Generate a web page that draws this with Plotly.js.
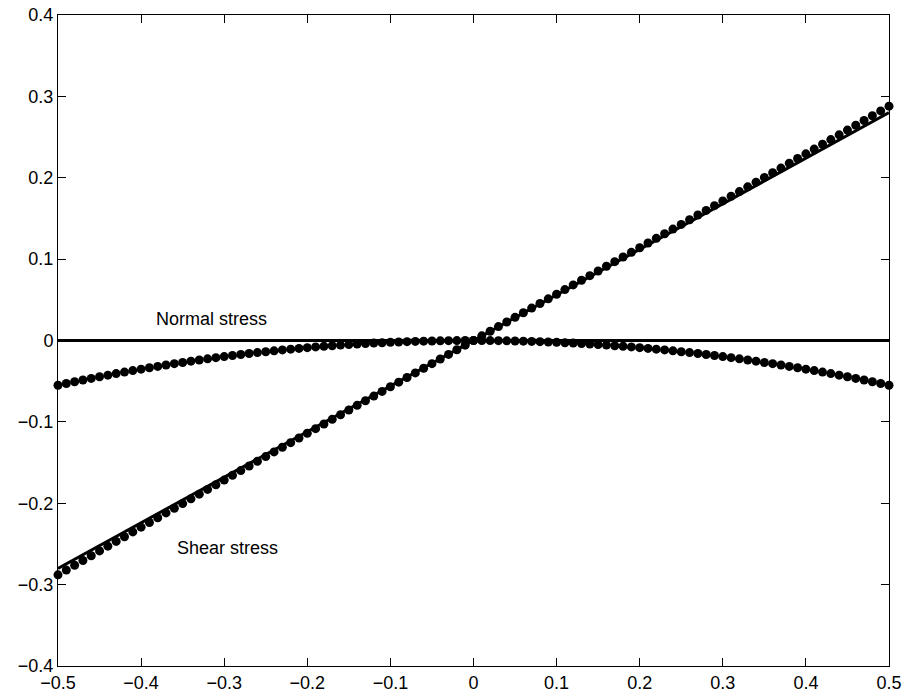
<!DOCTYPE html>
<html>
<head>
<meta charset="utf-8">
<script src="https://cdn.plot.ly/plotly-3.0.1.min.js"></script>
<style>html,body{margin:0;padding:0;background:#fff;}#chart{width:910px;height:697px;}</style>
</head>
<body>
<div id="chart"></div>
<script>
// Sample positions of the dotted (numerical) curves
const xPoints = [-0.50,-0.49,-0.48,-0.47,-0.46,-0.45,-0.44,-0.43,-0.42,-0.41,
  -0.40,-0.39,-0.38,-0.37,-0.36,-0.35,-0.34,-0.33,-0.32,-0.31,
  -0.30,-0.29,-0.28,-0.27,-0.26,-0.25,-0.24,-0.23,-0.22,-0.21,
  -0.20,-0.19,-0.18,-0.17,-0.16,-0.15,-0.14,-0.13,-0.12,-0.11,
  -0.10,-0.09,-0.08,-0.07,-0.06,-0.05,-0.04,-0.03,-0.02,-0.01,
  0.00,
  0.01,0.02,0.03,0.04,0.05,0.06,0.07,0.08,0.09,0.10,
  0.11,0.12,0.13,0.14,0.15,0.16,0.17,0.18,0.19,0.20,
  0.21,0.22,0.23,0.24,0.25,0.26,0.27,0.28,0.29,0.30,
  0.31,0.32,0.33,0.34,0.35,0.36,0.37,0.38,0.39,0.40,
  0.41,0.42,0.43,0.44,0.45,0.46,0.47,0.48,0.49,0.50];

// Shear stress, dotted curve
const shearDots = [-0.2880,-0.2821,-0.2762,-0.2703,-0.2645,-0.2586,-0.2527,-0.2469,-0.2411,-0.2352,
  -0.2294,-0.2236,-0.2178,-0.2119,-0.2061,-0.2004,-0.1946,-0.1888,-0.1830,-0.1772,
  -0.1715,-0.1657,-0.1599,-0.1542,-0.1484,-0.1427,-0.1369,-0.1312,-0.1255,-0.1198,
  -0.1140,-0.1083,-0.1026,-0.0969,-0.0912,-0.0854,-0.0797,-0.0740,-0.0683,-0.0626,
  -0.0569,-0.0512,-0.0455,-0.0398,-0.0341,-0.0285,-0.0228,-0.0171,-0.0114,-0.0057,
  0.0000,
  0.0057,0.0114,0.0171,0.0228,0.0285,0.0341,0.0398,0.0455,0.0512,0.0569,
  0.0626,0.0683,0.0740,0.0797,0.0854,0.0912,0.0969,0.1026,0.1083,0.1140,
  0.1198,0.1255,0.1312,0.1369,0.1427,0.1484,0.1542,0.1599,0.1657,0.1715,
  0.1772,0.1830,0.1888,0.1946,0.2004,0.2061,0.2119,0.2178,0.2236,0.2294,
  0.2352,0.2411,0.2469,0.2527,0.2586,0.2645,0.2703,0.2762,0.2821,0.2880];

// Normal stress, dotted curve
const normalDots = [-0.0550,-0.0528,-0.0507,-0.0486,-0.0466,-0.0446,-0.0426,-0.0407,-0.0388,-0.0370,
  -0.0352,-0.0335,-0.0318,-0.0301,-0.0285,-0.0270,-0.0254,-0.0240,-0.0225,-0.0211,
  -0.0198,-0.0185,-0.0172,-0.0160,-0.0149,-0.0138,-0.0127,-0.0116,-0.0106,-0.0097,
  -0.0088,-0.0079,-0.0071,-0.0064,-0.0056,-0.0050,-0.0043,-0.0037,-0.0032,-0.0027,
  -0.0022,-0.0018,-0.0014,-0.0011,-0.0008,-0.0006,-0.0004,-0.0002,-0.0001,0.0000,
  0.0000,
  0.0000,-0.0001,-0.0002,-0.0004,-0.0006,-0.0008,-0.0011,-0.0014,-0.0018,-0.0022,
  -0.0027,-0.0032,-0.0037,-0.0043,-0.0050,-0.0056,-0.0064,-0.0071,-0.0079,-0.0088,
  -0.0097,-0.0106,-0.0116,-0.0127,-0.0138,-0.0149,-0.0160,-0.0172,-0.0185,-0.0198,
  -0.0211,-0.0225,-0.0240,-0.0254,-0.0270,-0.0285,-0.0301,-0.0318,-0.0335,-0.0352,
  -0.0370,-0.0388,-0.0407,-0.0426,-0.0446,-0.0466,-0.0486,-0.0507,-0.0528,-0.0550];

// Solid (exact) lines
const xLine = [-0.5, 0.5];
const shearLine = [-0.28, 0.28];
const normalLine = [0, 0];

// Labels
const labelTexts = ["Normal stress", "Shear stress"];
const labelX = [-0.315, -0.296];
const labelY = [0.027, -0.255];

const tickVals = [-0.5,-0.4,-0.3,-0.2,-0.1,0,0.1,0.2,0.3,0.4,0.5];
const yTickVals = [-0.4,-0.3,-0.2,-0.1,0,0.1,0.2,0.3,0.4];

const traces = [
  {x: xLine, y: normalLine, mode: 'lines', line: {color: '#000', width: 3}, hoverinfo: 'skip'},
  {x: xLine, y: shearLine, mode: 'lines', line: {color: '#000', width: 3}, hoverinfo: 'skip'},
  {x: xPoints, y: normalDots, mode: 'markers', marker: {color: '#000', size: 9}, cliponaxis: false},
  {x: xPoints, y: shearDots, mode: 'markers', marker: {color: '#000', size: 9}, cliponaxis: false}
];

const font = {family: 'Liberation Sans, Arial, Helvetica, sans-serif', size: 18, color: '#000'};

const axisCommon = {
  showgrid: false, zeroline: false, showline: true, linecolor: '#000', linewidth: 1,
  mirror: 'ticks', ticks: 'inside', ticklen: 8, tickwidth: 1, tickcolor: '#000',
  tickfont: font, tickmode: 'array'
};

const layout = {
  width: 910, height: 697,
  margin: {l: 58, r: 21, t: 15, b: 31},
  paper_bgcolor: '#fff', plot_bgcolor: '#fff',
  showlegend: false,
  font: font,
  xaxis: Object.assign({}, axisCommon, {range: [-0.5, 0.5], tickvals: tickVals}),
  yaxis: Object.assign({}, axisCommon, {range: [-0.4, 0.4], tickvals: yTickVals}),
  annotations: labelTexts.map((t, i) => ({
    text: t, x: labelX[i], y: labelY[i], xref: 'x', yref: 'y',
    showarrow: false, xanchor: 'center', yanchor: 'middle', font: font
  }))
};

Plotly.newPlot('chart', traces, layout, {displayModeBar: false, staticPlot: true});
</script>
</body>
</html>
